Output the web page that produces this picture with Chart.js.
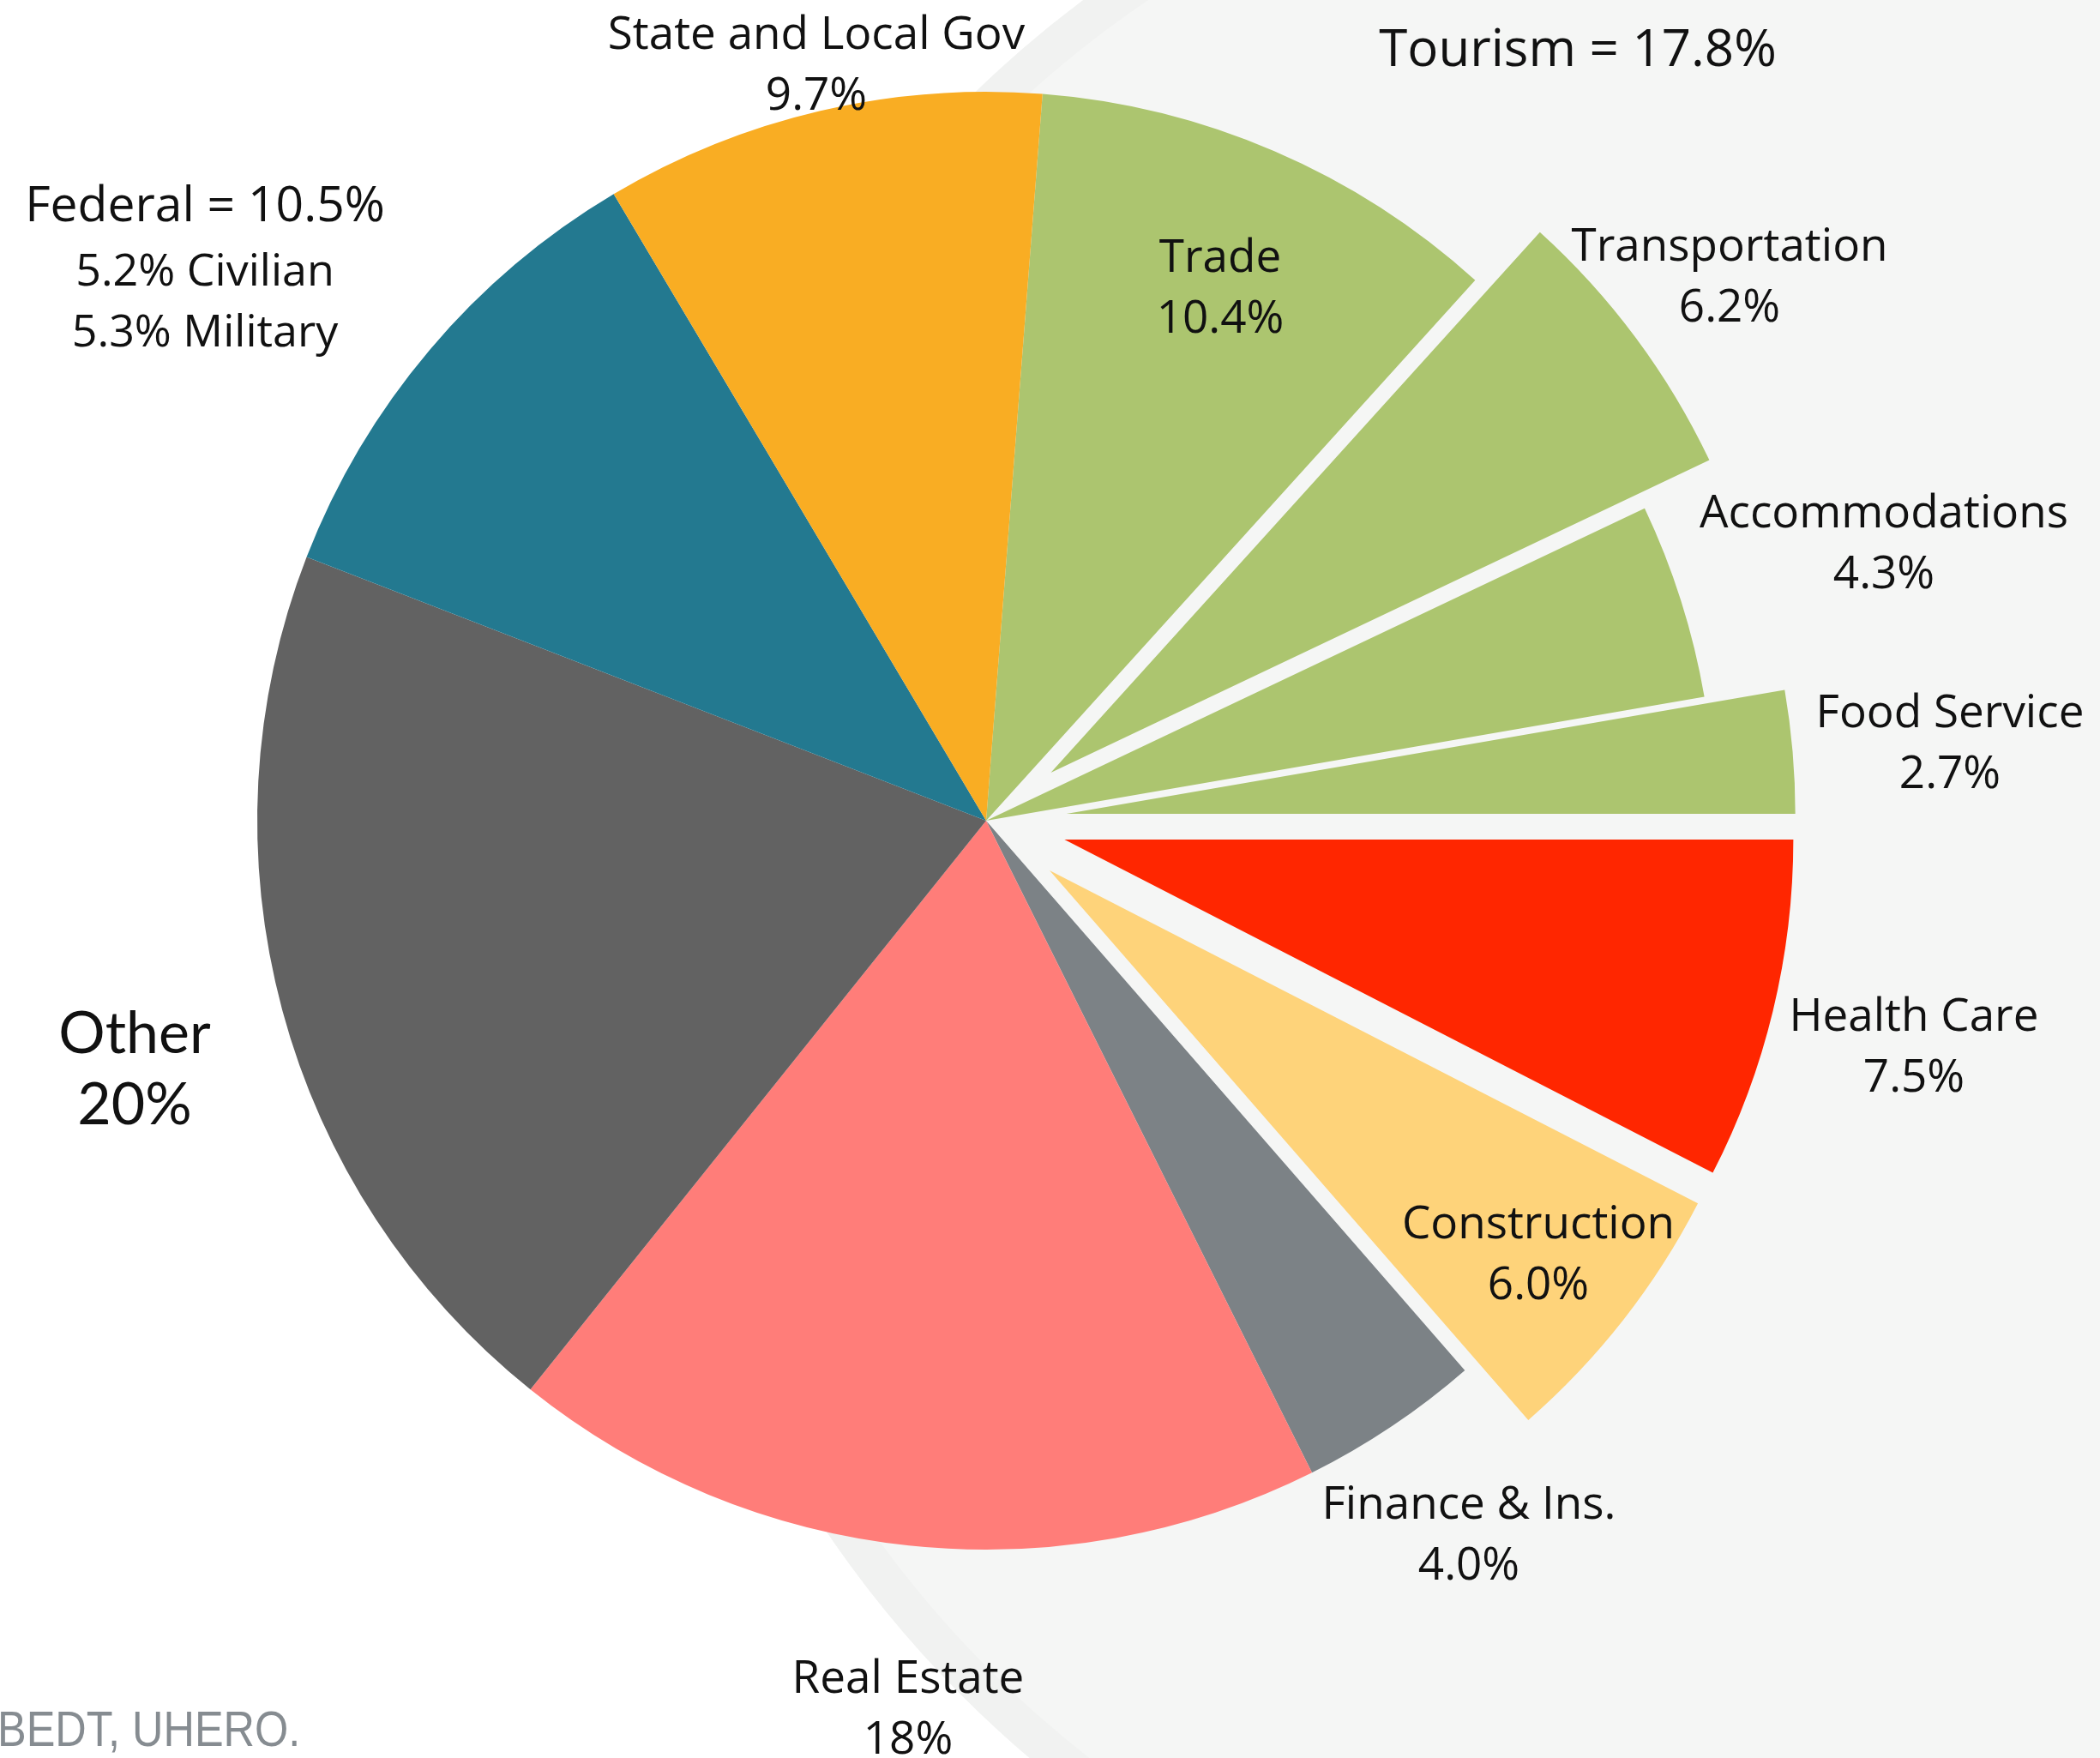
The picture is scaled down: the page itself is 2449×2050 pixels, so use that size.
<!DOCTYPE html>
<html>
<head>
<meta charset="utf-8">
<title>Hawaii jobs by industry</title>
<script src="https://cdn.jsdelivr.net/npm/chart.js@4.4.1/dist/chart.umd.min.js"></script>
<style>
  html, body { margin: 0; padding: 0; background: #fff; }
  canvas { display: block; }
</style>
</head>
<body>
<canvas id="pie" width="2449" height="2050"></canvas>
<script>
// shares, clockwise from the top
const categories = ['Trade', 'Transportation', 'Accommodations', 'Food Service', 'Health Care',
  'Construction', 'Finance & Ins.', 'Real Estate', 'Other', 'Federal', 'State and Local Gov'];
const shares = [10.4, 6.2, 4.3, 2.7, 7.5, 6.0, 4.0, 18, 20, 10.5, 9.7];
const shareText = ['10.4%', '6.2%', '4.3%', '2.7%', '7.5%', '6.0%', '4.0%', '18%', '20%', '10.5%', '9.7%'];
const tourismShare = 17.8;
const federalCivilian = 5.2;
const federalMilitary = 5.3;
const sourceNote = 'BEDT, UHERO.';

const sliceColors = ['#acc56f', '#acc56f', '#acc56f', '#acc56f', '#ff2600',
  '#fed37a', '#7c8286', '#ff7d79', '#626262', '#237990', '#f9ad23'];
// pulled-out slices (pixels along the slice middle)
const explode = [0, 94, 0, 94, 94, 94, 0, 0, 0, 0, 0];

const OPEN = '"Open Sans", "DejaVu Sans", sans-serif';
// where each label sits: centre x, first baseline y
const labelAt = {
  'Trade': [1423, 317],
  'Transportation': [2017, 304],
  'Accommodations': [2197, 615],
  'Food Service': [2274, 848],
  'Health Care': [2232, 1202],
  'Construction': [1794, 1444],
  'Finance & Ins.': [1713, 1771],
  'Real Estate': [1059, 1974],
  'Other': [157, 1228],
  'Federal': [239, 258],
  'State and Local Gov': [952, 57]
};

const backdrop = {
  id: 'backdrop',
  beforeDraw(chart) {
    const ctx = chart.ctx;
    ctx.save();
    ctx.fillStyle = '#ffffff';
    ctx.fillRect(0, 0, chart.width, chart.height);
    // faint seal behind the right half
    ctx.beginPath();
    ctx.arc(2050, 1050, 1312, 0, Math.PI * 2);
    ctx.fillStyle = '#f5f6f5';
    ctx.fill();
    ctx.lineWidth = 44;
    ctx.strokeStyle = '#f1f2f1';
    ctx.beginPath();
    ctx.arc(2050, 1050, 1290, 0, Math.PI * 2);
    ctx.stroke();
    ctx.restore();
  }
};

const explodedSlices = {
  id: 'explodedSlices',
  beforeDatasetDraw(chart, args) {
    const ctx = chart.ctx;
    const ds = chart.data.datasets[args.index];
    args.meta.data.forEach((arc, i) => {
      const d = (ds.explode && ds.explode[i]) || 0;
      const mid = (arc.startAngle + arc.endAngle) / 2;
      ctx.save();
      ctx.translate(Math.cos(mid) * d, Math.sin(mid) * d);
      arc.draw(ctx);
      ctx.restore();
    });
    return false;
  }
};

const sliceLabels = {
  id: 'sliceLabels',
  afterDatasetsDraw(chart) {
    const ctx = chart.ctx;
    ctx.save();
    ctx.textAlign = 'center';
    ctx.textBaseline = 'alphabetic';
    ctx.fillStyle = '#111111';
    categories.forEach((name, i) => {
      const [x, y] = labelAt[name];
      if (name === 'Federal') {
        ctx.font = '57px ' + OPEN;
        ctx.fillText('Federal = ' + shareText[i], x, y);
        ctx.font = '52px ' + OPEN;
        ctx.fillText(federalCivilian + '% Civilian', x, y + 75);
        ctx.fillText(federalMilitary + '% Military', x, y + 146);
      } else if (name === 'Other') {
        ctx.font = '68px Lato, "Open Sans", sans-serif';
        ctx.fillText(name, x, y);
        ctx.fillText(shareText[i], x, y + 83);
      } else {
        ctx.font = '53px ' + OPEN;
        ctx.fillText(name, x, y);
        ctx.fillText(shareText[i], x, y + 71);
      }
    });
    ctx.font = '60px ' + OPEN;
    ctx.fillText('Tourism = ' + tourismShare + '%', 1840, 77);

    // narrow grey source line, cut at the left edge
    ctx.textAlign = 'left';
    ctx.fillStyle = '#868c91';
    ctx.font = '58px "Liberation Sans", Arial, sans-serif';
    ctx.translate(-3, 2036);
    ctx.scale(0.87, 1);
    ctx.fillText(sourceNote, 0, 0);
    ctx.restore();
  }
};

new Chart(document.getElementById('pie'), {
  type: 'pie',
  data: {
    labels: categories,
    datasets: [{
      data: shares,
      backgroundColor: sliceColors,
      borderWidth: 0,
      hoverOffset: 0,
      explode: explode
    }]
  },
  options: {
    responsive: false,
    animation: false,
    events: [],
    rotation: 4.44,
    radius: 850,
    layout: { padding: { left: 0, right: 149, top: 0, bottom: 136 } },
    plugins: {
      legend: { display: false },
      tooltip: { enabled: false }
    }
  },
  plugins: [backdrop, explodedSlices, sliceLabels]
});
</script>
</body>
</html>
